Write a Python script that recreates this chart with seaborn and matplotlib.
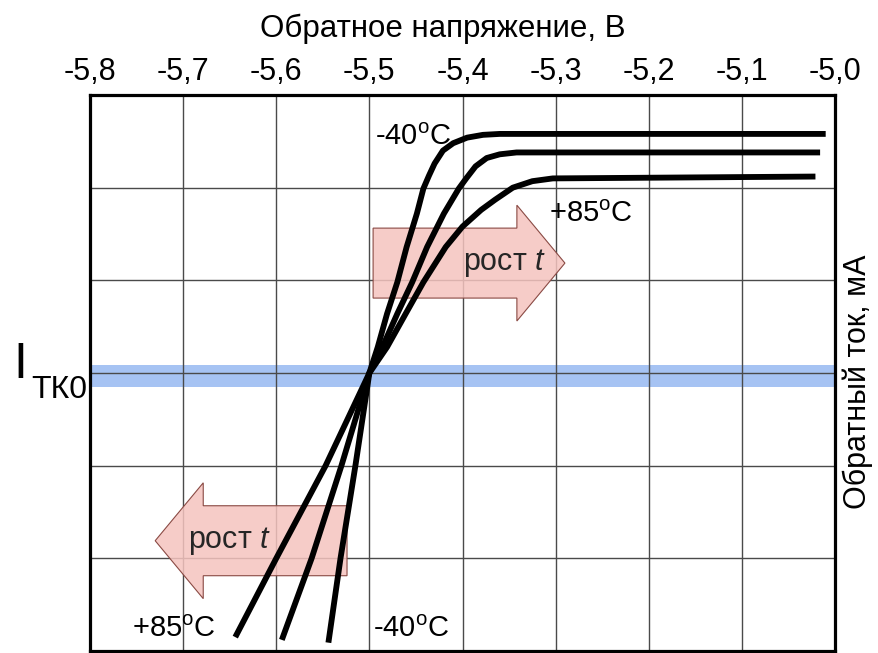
import matplotlib
matplotlib.use('Agg')
import matplotlib.pyplot as plt
from matplotlib.patches import FancyArrow
import seaborn as sns
import pandas as pd

# --- data (voltage in V, current in grid units 0..6) ---
u_m40 = [-5.544, -5.531, -5.515, -5.500, -5.491, -5.481, -5.470, -5.460, -5.449,
         -5.442, -5.436, -5.430, -5.421, -5.410, -5.395, -5.378, -5.360, -5.010]
i_m40 = [0.09, 1.00, 2.00, 3.00, 3.28, 3.64, 3.98, 4.36, 4.72,
         4.99, 5.13, 5.26, 5.40, 5.48, 5.54, 5.57, 5.58, 5.58]

u_mid = [-5.594, -5.562, -5.530, -5.500, -5.486, -5.470, -5.454, -5.438, -5.420,
         -5.404, -5.396, -5.386, -5.374, -5.360, -5.342, -5.016]
i_mid = [0.12, 1.00, 2.00, 3.00, 3.28, 3.64, 3.98, 4.36, 4.72,
         4.99, 5.10, 5.23, 5.32, 5.36, 5.38, 5.38]

u_p85 = [-5.644, -5.600, -5.547, -5.500, -5.481, -5.461, -5.442, -5.418, -5.400,
         -5.380, -5.365, -5.346, -5.325, -5.303, -5.021]
i_p85 = [0.15, 1.00, 2.00, 3.00, 3.28, 3.64, 3.98, 4.36, 4.58,
         4.76, 4.87, 5.00, 5.07, 5.10, 5.12]

x_ticks = [-5.8, -5.7, -5.6, -5.5, -5.4, -5.3, -5.2, -5.1, -5.0]
x_labels = ['-5,8', '-5,7', '-5,6', '-5,5', '-5,4', '-5,3', '-5,2', '-5,1', '-5,0']
y_grid = [1, 2, 3, 4, 5]
band = (2.85, 3.085)

sns.set_theme(style='white')
plt.rcParams['font.family'] = ['Liberation Sans', 'DejaVu Sans']
plt.rcParams['mathtext.fontset'] = 'custom'
plt.rcParams['mathtext.rm'] = 'Liberation Sans'
plt.rcParams['mathtext.it'] = 'Liberation Sans:italic'

fig = plt.figure(figsize=(8.79, 6.53), dpi=100)
ax = fig.add_axes([90 / 879, 2 / 653, 745 / 879, 556 / 653])

# blue band around I_TK0
ax.axhspan(band[0], band[1], color='#a6c3f3', lw=0, zorder=0.2)

# arrows "рост t"
arrow_kw = dict(width=0.755, head_width=1.25, head_length=0.0516,
                length_includes_head=True, facecolor=(0.96, 0.77, 0.75, 0.85),
                edgecolor='#8a4a44', lw=0.8, zorder=1)
ax.add_patch(FancyArrow(-5.496, 4.186, 0.206, 0, **arrow_kw))
ax.add_patch(FancyArrow(-5.524, 1.19, -0.206, 0, **arrow_kw))

# curves
for u, i in [(u_m40, i_m40), (u_mid, i_mid), (u_p85, i_p85)]:
    df = pd.DataFrame({'u': u, 'i': i})
    sns.lineplot(data=df, x='u', y='i', sort=False, estimator=None, ax=ax,
                 color='black', lw=4.2, solid_capstyle='butt',
                 solid_joinstyle='round', zorder=3)

ax.set_xlim(-5.8, -5.0)
ax.set_ylim(0, 6)

ax.set_xticks(x_ticks)
ax.set_xticklabels(x_labels)
ax.set_yticks(y_grid)
ax.set_yticklabels([])
ax.tick_params(axis='x', top=True, bottom=False, labeltop=True, labelbottom=False,
               length=0, pad=6, labelsize=22, labelcolor='black')
ax.tick_params(axis='y', left=False, right=False, length=0)
ax.set_axisbelow(True)
ax.grid(True, color='#4a4a4a', lw=1.0)
for s in ax.spines.values():
    s.set_color('black')
    s.set_linewidth(2.3)
ax.set_xlabel('')
ax.set_ylabel('Обратный ток, мА', fontsize=22, color='black')
ax.yaxis.set_label_position('right')
ax.yaxis.set_label_coords(1.0107, 0.484)

# labels on the plot
lbl = dict(fontsize=21, color='black', va='baseline', zorder=4)
ax.text(-5.494, 5.458, r'-40$^{\mathregular{o}}$C', **lbl)
ax.text(-5.307, 4.628, r'+85$^{\mathregular{o}}$C', **lbl)
ax.text(-5.755, 0.151, r'+85$^{\mathregular{o}}$C', **lbl)
ax.text(-5.496, 0.151, r'-40$^{\mathregular{o}}$C', **lbl)
ax.text(-5.355, 4.186, r'рост $\mathit{t}$', fontsize=22, ha='center', va='center', zorder=4)
ax.text(-5.650, 1.19, r'рост $\mathit{t}$', fontsize=22, ha='center', va='center', zorder=4)

# title and I_TK0
fig.text(443 / 879, 1 - 37 / 653, 'Обратное напряжение, В', ha='center',
         va='baseline', fontsize=22.5, color='black')
fig.text(13 / 879, 1 - 378 / 653, 'I', fontsize=36, va='baseline', color='black')
fig.text(31 / 879, 1 - 398 / 653, 'ТК0', fontsize=23, va='baseline', color='black')

fig.savefig('out.png', dpi=100)
